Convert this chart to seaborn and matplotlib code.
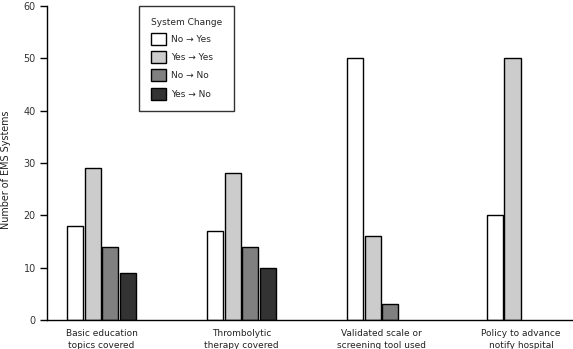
import numpy as np
import pandas as pd
import matplotlib
matplotlib.use("Agg")
import matplotlib.pyplot as plt
import seaborn as sns

categories = ["Basic education\ntopics covered", "Thrombolytic\ntherapy covered",
              "Validated scale or\nscreening tool used", "Policy to advance\nnotify hospital"]
series_names = ["No \u2192 Yes", "Yes \u2192 Yes", "No \u2192 No", "Yes \u2192 No"]
no_yes = [18, 17, 50, 20]
yes_yes = [29, 28, 16, 50]
no_no = [14, 14, 3, np.nan]
yes_no = [9, 10, np.nan, np.nan]
colors = ["#ffffff", "#cccccc", "#808080", "#333333"]

rows = []
for name, vals in zip(series_names, [no_yes, yes_yes, no_no, yes_no]):
    for c, v in zip(categories, vals):
        rows.append({"category": c, "change": name, "value": v})
df = pd.DataFrame(rows)

sns.set_style("white")
plt.rcParams["font.family"] = ["DejaVu Sans"]
plt.rcParams["font.size"] = 6.5

fig = plt.figure(figsize=(5.73, 3.49), dpi=100)
ax = fig.add_axes([47 / 573, 29 / 349, 526 / 573, 314 / 349])

sns.barplot(data=df.dropna(), x="category", y="value", hue="change",
            order=categories, hue_order=series_names, palette=colors,
            width=0.5, gap=0.08, edgecolor="black", linewidth=1.0,
            errorbar=None, ax=ax)

ax.set_xlim(-0.39, 3.37)
ax.set_ylim(0, 60)
ax.set_yticks(range(0, 61, 10))
ax.set_xlabel("")
ax.set_ylabel("Number of EMS Systems", fontsize=6.9, labelpad=7, color="#222222")
ax.yaxis.set_label_coords(-0.068, 0.48)
for s in ["top", "right"]:
    ax.spines[s].set_visible(False)
for s in ["left", "bottom"]:
    ax.spines[s].set_color("black")
    ax.spines[s].set_linewidth(1.0)
ax.tick_params(axis="y", which="both", left=True, length=5, width=1, color="black",
               labelsize=6.9, labelcolor="#333333", pad=3)
ax.tick_params(axis="x", bottom=False, labelsize=6.5, labelcolor="#222222", pad=3)
for t in ax.get_xticklabels():
    t.set_linespacing(1.45)

leg = ax.legend(title="System Change", loc="upper left", bbox_to_anchor=(0.175, 1.0),
                frameon=True, fancybox=False, shadow=False, fontsize=6.5,
                title_fontsize=6.5, handlelength=1.65, handleheight=1.65,
                labelspacing=0.7, borderpad=1.3, handletextpad=0.6, borderaxespad=0)
leg._legend_box.align = "left"
leg.get_frame().set_edgecolor("black")
leg.get_frame().set_linewidth(1.0)

fig.savefig("out.png", dpi=100)
